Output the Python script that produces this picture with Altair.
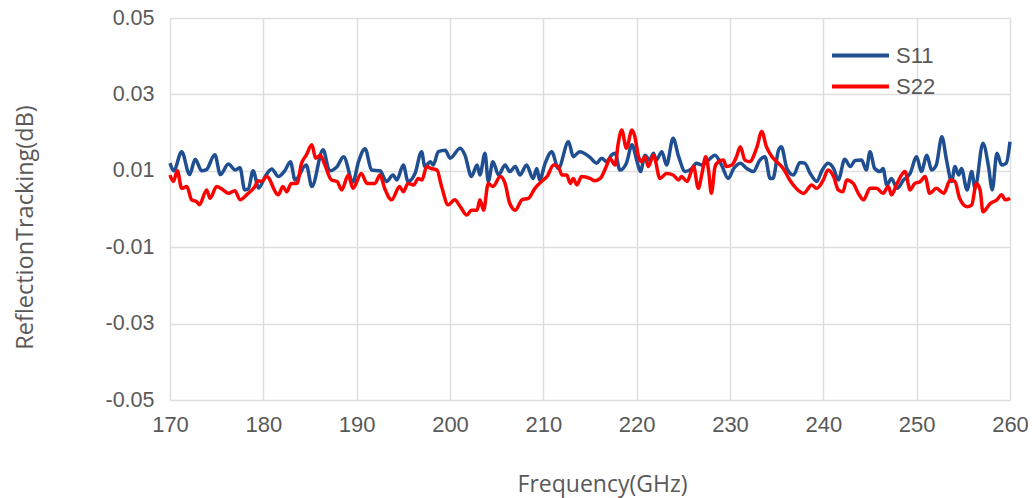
import altair as alt
import pandas as pd

# ---- data ----
s11_freq = [170.0,170.4,171.25,172.1,172.7,173.4,173.9,174.8,175.4,176.25,
            177.0,177.5,178.0,178.4,178.9,179.5,180.2,180.9,181.6,182.3,
            182.9,183.4,184.6,185.2,186.4,187.1,187.9,188.6,189.6,190.2,
            190.9,191.6,192.5,
            193.2,193.9,194.3,195.0,195.5,196.25,196.96,197.3,197.9,198.2,
            198.75,199.5,200.0,201.1,201.6,202.3,202.9,203.2,203.75,204.1,
            204.6,205.2,205.9,206.4,207.0,207.5,208.2,208.9,209.3,209.6,
            210.2,210.9,211.6,212.7,213.2,213.9,215.0,
            215.7,216.25,216.8,217.3,217.7,218.2,218.9,219.5,220.0,220.4,
            220.9,221.4,221.8,222.1,222.7,223.2,223.9,224.5,225.2,225.9,
            226.4,227.0,227.7,228.4,229.1,229.8,230.4,231.1,231.8,232.5,
            233.2,233.75,234.3,234.6,235.2,235.5,236.1,236.8,237.5,
            238.0,238.6,239.3,239.8,240.5,241.1,241.6,242.3,242.9,243.4,
            244.1,244.6,245.0,245.5,246.1,246.4,246.8,247.3,247.9,248.6,
            249.3,250.0,250.5,251.1,251.6,252.1,252.7,253.2,253.75,254.1,
            254.5,254.8,255.4,255.9,256.25,257.1,257.7,258.1,258.6,259.1,
            259.6,260.0]
s11_vals = [0.0120,0.0100,0.0150,0.0090,0.0130,0.0100,0.0103,0.0142,0.0090,0.0118,
            0.0102,0.0108,0.0050,0.0053,0.0100,0.0055,0.0085,0.0105,0.0085,0.0100,
            0.0124,0.0076,0.0115,0.0059,0.0155,0.0100,0.0111,0.0137,0.0071,0.0124,
            0.0158,0.0102,0.0100,
            0.0072,0.0089,0.0076,0.0115,0.0072,0.0093,0.0150,0.0111,0.0124,0.0115,
            0.0150,0.0154,0.0133,0.0159,0.0141,0.0085,0.0115,0.0089,0.0146,0.0072,
            0.0124,0.0089,0.0115,0.0098,0.0111,0.0089,0.0115,0.0080,0.0106,0.0076,
            0.0120,0.0150,0.0106,0.0176,0.0137,0.0150,0.0135,
            0.0120,0.0133,0.0124,0.0141,0.0146,0.0102,0.0120,0.0168,0.0128,0.0098,
            0.0141,0.0128,0.0146,0.0128,0.0150,0.0115,0.0185,0.0137,0.0098,0.0106,
            0.0120,0.0115,0.0128,0.0141,0.0115,0.0080,0.0106,0.0120,0.0106,0.0098,
            0.0128,0.0137,0.0080,0.0080,0.0154,0.0163,0.0106,0.0089,0.0122,
            0.0120,0.0093,0.0072,0.0098,0.0120,0.0106,0.0076,0.0130,0.0111,0.0127,
            0.0128,0.0102,0.0150,0.0106,0.0098,0.0106,0.0063,0.0080,0.0054,0.0076,
            0.0093,0.0137,0.0098,0.0141,0.0102,0.0115,0.0189,0.0128,0.0072,0.0111,
            0.0089,0.0106,0.0050,0.0098,0.0054,0.0172,0.0111,0.0050,0.0146,0.0115,
            0.0120,0.0176]

s22_freq = [170.0,170.36,170.79,171.25,171.8,172.32,172.86,173.14,173.93,174.29,
            175.0,175.7,176.25,176.96,177.5,178.2,179.1,179.46,179.82,180.36,
            181.6,182.1,182.5,183.0,183.6,184.1,184.6,185.2,185.6,186.1,
            186.6,187.3,187.9,188.4,189.1,189.6,190.5,191.1,191.96,192.5,
            193.0,193.75,194.6,195.0,195.5,196.1,196.6,197.0,197.5,198.0,
            198.6,199.1,199.8,200.5,201.1,201.8,202.3,202.9,203.2,203.6,
            204.1,204.6,205.4,205.9,206.4,207.0,207.7,208.4,209.1,209.8,
            210.4,211.1,211.6,212.0,212.5,212.9,213.2,213.6,214.1,215.0,
            215.5,216.1,216.8,217.1,217.7,218.0,218.4,218.9,219.5,219.8,
            220.2,220.5,220.9,221.25,221.8,222.5,223.2,223.9,224.5,224.8,
            225.4,226.1,226.6,227.0,227.4,227.7,228.0,228.4,228.75,229.3,
            229.6,230.2,230.7,231.1,231.6,232.1,232.9,233.4,233.9,234.5,
            235.0,235.7,236.4,
            237.1,237.9,238.75,239.3,240.0,240.5,241.1,241.6,242.1,242.5,
            243.2,243.75,244.3,245.0,245.7,246.4,246.96,247.3,247.9,248.75,
            249.3,249.8,250.4,250.9,251.4,252.1,252.9,253.6,254.1,254.6,
            255.4,255.9,256.4,256.8,257.1,257.9,258.6,259.1,259.5,260.0]
s22_vals = [0.0089,0.0072,0.0100,0.0054,0.0059,0.0024,0.0019,0.0011,0.0050,0.0028,
            0.0059,0.0050,0.0041,0.0048,0.0024,0.0037,0.0059,0.0074,0.0072,0.0085,
            0.0037,0.0059,0.0045,0.0067,0.0067,0.0120,0.0141,0.0168,0.0133,0.0141,
            0.0115,0.0076,0.0072,0.0050,0.0089,0.0054,0.0093,0.0067,0.0067,0.0089,
            0.0054,0.0024,0.0059,0.0045,0.0067,0.0063,0.0080,0.0076,0.0111,0.0106,
            0.0102,0.0059,0.0011,0.0024,0.0006,-0.0016,-0.0003,-0.0003,0.0024,-0.0003,
            0.0067,0.0059,0.0085,0.0067,0.0015,-0.0003,0.0024,0.0028,0.0054,0.0072,
            0.0085,0.0115,0.0111,0.0089,0.0089,0.0067,0.0080,0.0063,0.0085,0.0080,
            0.0074,0.0080,0.0115,0.0133,0.0115,0.0168,0.0207,0.0159,0.0207,0.0190,
            0.0137,0.0124,0.0137,0.0111,0.0141,0.0080,0.0093,0.0089,0.0076,0.0085,
            0.0072,0.0111,0.0054,0.0093,0.0137,0.0102,0.0041,0.0111,0.0124,0.0128,
            0.0111,0.0115,0.0137,0.0163,0.0128,0.0124,0.0163,0.0203,0.0163,0.0137,
            0.0124,0.0106,0.0076,
            0.0054,0.0041,0.0063,0.0054,0.0076,0.0102,0.0085,0.0050,0.0045,0.0076,
            0.0067,0.0041,0.0024,0.0054,0.0054,0.0041,0.0059,0.0037,0.0067,0.0098,
            0.0050,0.0067,0.0072,0.0085,0.0041,0.0054,0.0041,0.0076,0.0072,0.0028,
            0.0006,0.0011,0.0067,0.0050,-0.0007,0.0015,0.0024,0.0037,0.0024,0.0028]

series_names = ["S11", "S22"]
series_colors = ["#1F4E91", "#FF0000"]
x_ticks = [170, 180, 190, 200, 210, 220, 230, 240, 250, 260]
y_ticks = [-0.05, -0.03, -0.01, 0.01, 0.03, 0.05]

assert len(s11_freq) == len(s11_vals)
assert len(s22_freq) == len(s22_vals)

df = pd.concat([
    pd.DataFrame({"freq": s11_freq, "val": s11_vals, "series": "S11", "ord": range(len(s11_freq))}),
    pd.DataFrame({"freq": s22_freq, "val": s22_vals, "series": "S22", "ord": range(len(s22_freq))}),
])

grey = "#595959"

chart = alt.Chart(df).mark_line(strokeWidth=3.5, interpolate="monotone").encode(
    x=alt.X("freq:Q",
            scale=alt.Scale(domain=[170, 260], nice=False),
            axis=alt.Axis(values=x_ticks, title="Frequency(GHz)", labelFontSize=22,
                          labelFont="Liberation Sans", labelColor=grey, labelPadding=14,
                          labelFlush=False, labelOverlap=False,
                          titleFont="Open Sans", titleFontSize=23, titleFontWeight="normal",
                          titleColor=grey, titlePadding=38, titleX=432,
                          domain=False, ticks=False,
                          gridColor="#dedede", gridWidth=1.5)),
    y=alt.Y("val:Q",
            scale=alt.Scale(domain=[-0.05, 0.05], nice=False),
            axis=alt.Axis(values=y_ticks, title="ReflectionTracking(dB)",
                          labelExpr="replace(format(datum.value, '.2f'), '\u2212', '-')",
                          labelFontSize=21.5, labelFont="Liberation Sans", labelColor=grey,
                          labelPadding=16, labelFlush=False,
                          titleFont="Open Sans", titleFontSize=23.5,
                          titleFontWeight="normal", titleColor=grey, titlePadding=67,
                          titleY=209,
                          domain=False, ticks=False, gridColor="#dedede", gridWidth=1.5)),
    color=alt.Color("series:N",
                    scale=alt.Scale(domain=series_names, range=series_colors),
                    legend=alt.Legend(title=None, orient="none", legendX=674, legendY=21,
                                      symbolType="M-2,0H2", symbolSize=812,
                                      symbolStrokeWidth=4, labelOffset=19,
                                      labelFontSize=22, labelFont="Liberation Sans",
                                      labelColor=grey, rowPadding=3)),
    order="ord:Q",
).properties(
    width=840, height=382,
    autosize=alt.AutoSizeParams(type="none"),
    padding={"left": 162, "top": 10, "right": 18, "bottom": 100},
).configure_view(stroke=None)

chart.save("out.html", embed_options={"renderer": "svg", "actions": False})
